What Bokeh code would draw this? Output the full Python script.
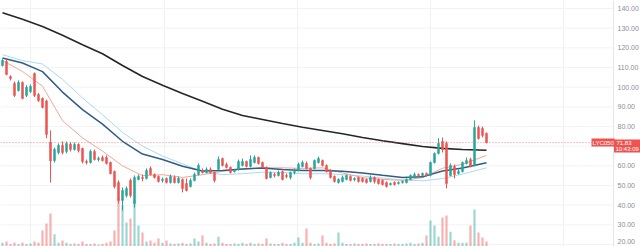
from bokeh.plotting import figure
from bokeh.models import Range1d, FixedTicker, Label, Span, Grid
from bokeh.core.properties import value
from bokeh.embed import file_html
from bokeh.resources import INLINE

# ---- data ----
opens = [111.0, 113.0, 105.4, 101.9, 98.3, 102.4, 95.8, 97.8, 106.9, 96.3,
         94.3, 93.0, 72.0, 62.7, 66.8, 70.4, 67.3, 71.0, 68.3, 70.9,
         68.8, 62.2, 61.7, 67.3, 63.2, 64.2, 64.2, 61.7, 57.1, 51.5,
         42.4, 44.9, 52.6, 40.9, 53.1, 54.1, 53.6, 58.7, 55.6, 54.6,
         52.6, 53.6, 51.5, 54.1, 51.5, 53.1, 51.0, 49.5, 52.6, 55.6,
         57.6, 56.6, 58.2, 56.6, 58.2, 63.7, 60.7, 59.2, 57.1, 58.2,
         60.2, 62.2, 59.7, 61.7, 64.2, 61.7, 59.2, 54.1, 55.6, 55.1,
         57.1, 55.1, 54.1, 56.6, 57.6, 59.7, 61.2, 58.7, 58.7, 61.7,
         62.7, 60.2, 57.6, 54.6, 51.5, 52.1, 53.1, 54.6, 53.1, 54.1,
         53.6, 53.1, 52.1, 54.1, 53.1, 52.6, 51.5, 50.5, 51.5, 51.0,
         51.5, 51.5, 53.1, 54.1, 55.6, 55.1, 56.1, 55.1, 61.7, 66.3,
         72.4, 71.4, 55.1, 59.7, 56.1, 57.1, 61.2, 63.2, 60.2, 79.5,
         79.0, 76.5]
closes = [113.6, 106.5, 104.4, 95.8, 102.4, 94.3, 100.0, 100.4, 95.8, 93.2,
          89.7, 76.0, 62.5, 68.3, 70.4, 66.8, 71.4, 68.3, 70.9, 67.8,
          62.2, 61.7, 67.3, 63.2, 63.7, 62.7, 61.2, 56.1, 49.5, 42.4,
          47.5, 48.5, 44.9, 54.1, 54.6, 53.6, 57.6, 55.6, 54.1, 52.1,
          53.1, 51.5, 54.6, 51.5, 53.6, 48.5, 47.5, 52.6, 55.6, 60.2,
          56.6, 58.2, 56.6, 52.6, 63.2, 60.2, 59.2, 56.6, 57.6, 62.2,
          62.2, 59.7, 63.2, 64.2, 61.2, 59.2, 53.6, 56.6, 55.1, 56.6,
          53.1, 54.6, 56.6, 57.1, 60.7, 61.7, 58.7, 54.1, 62.7, 63.7,
          60.2, 57.1, 54.1, 52.1, 53.1, 54.1, 55.1, 52.6, 53.6, 52.1,
          52.1, 51.5, 54.1, 52.1, 51.0, 50.5, 49.5, 51.0, 50.5, 51.5,
          52.1, 53.1, 55.1, 55.6, 55.1, 56.1, 55.1, 61.7, 66.3, 71.4,
          68.3, 51.0, 60.2, 55.6, 57.1, 61.7, 62.7, 59.7, 79.5, 73.9,
          75.4, 71.83]
highs = [114.6, 114.0, 106.0, 102.9, 103.4, 102.9, 101.0, 101.4, 107.5, 97.0,
         94.8, 93.7, 78.0, 69.3, 71.4, 72.4, 72.4, 72.0, 71.9, 71.4,
         69.3, 63.2, 68.3, 68.3, 64.7, 65.3, 65.3, 62.2, 57.6, 52.6,
         49.0, 49.5, 53.6, 55.1, 55.6, 55.6, 58.7, 59.7, 56.1, 55.1,
         54.1, 54.1, 55.6, 55.1, 54.6, 53.6, 53.6, 53.6, 56.6, 61.2,
         58.7, 59.2, 59.2, 57.1, 64.7, 64.2, 61.7, 59.7, 58.2, 63.2,
         63.7, 62.7, 65.3, 65.3, 64.7, 62.2, 59.7, 57.1, 56.6, 57.6,
         57.6, 56.1, 57.1, 58.7, 61.7, 62.7, 62.2, 59.2, 63.2, 64.7,
         63.2, 60.7, 58.2, 55.1, 53.6, 55.1, 55.6, 55.1, 54.1, 54.6,
         54.1, 53.6, 55.1, 54.6, 53.6, 53.1, 52.1, 51.5, 52.1, 52.1,
         52.6, 53.6, 55.6, 56.6, 56.1, 56.6, 56.6, 62.2, 66.8, 74.0,
         74.4, 72.4, 61.2, 60.7, 58.7, 62.2, 64.2, 64.2, 83.1, 80.5,
         80.0, 77.0]
lows = [110.5, 106.0, 103.4, 95.0, 97.8, 93.8, 95.0, 97.0, 95.0, 92.5,
        89.2, 74.0, 51.5, 61.7, 65.8, 65.8, 66.3, 67.3, 67.8, 66.8,
        61.2, 60.7, 61.2, 62.7, 62.2, 62.2, 60.7, 55.6, 48.5, 40.9,
        37.3, 43.9, 43.9, 38.8, 52.6, 52.1, 53.1, 55.1, 53.6, 51.5,
        51.5, 51.0, 51.0, 51.0, 51.0, 46.5, 47.0, 49.0, 52.1, 55.1,
        56.1, 56.1, 56.1, 51.5, 58.2, 59.7, 58.7, 56.1, 56.6, 57.6,
        59.7, 59.2, 59.2, 61.2, 60.7, 58.7, 53.1, 53.6, 54.1, 54.6,
        52.6, 53.6, 53.1, 55.6, 57.1, 59.2, 58.2, 53.1, 58.2, 61.2,
        59.7, 56.6, 53.6, 51.5, 51.0, 51.5, 52.6, 52.1, 52.1, 51.5,
        51.5, 51.0, 51.5, 51.0, 50.5, 50.0, 49.0, 50.0, 50.0, 50.5,
        51.0, 51.0, 52.6, 53.6, 54.6, 54.6, 54.6, 54.6, 61.2, 65.8,
        66.8, 48.5, 54.6, 53.6, 55.6, 56.6, 60.7, 59.2, 59.7, 73.4,
        74.4, 71.4]
volumes = [1.5, 2.0, 1.0, 1.5, 1.0, 1.5, 1.0, 1.2, 2.0, 1.5,
           6.5, 9.3, 13.4, 5.0, 1.5, 2.4, 1.5, 1.0, 1.2, 1.0,
           2.0, 1.0, 1.0, 1.2, 0.8, 1.0, 1.5, 2.0, 6.5, 19.5,
           16.7, 9.8, 11.4, 18.7, 8.5, 5.7, 2.0, 2.4, 1.5, 3.3,
           1.5, 2.4, 1.2, 1.0, 1.2, 1.5, 1.0, 1.2, 3.3, 2.0,
           4.5, 1.5, 1.0, 1.2, 4.0, 1.5, 1.0, 1.0, 1.2, 1.0,
           1.5, 1.0, 1.5, 1.0, 1.2, 1.0, 3.3, 1.2, 1.0, 1.0,
           1.5, 1.0, 1.0, 1.5, 3.7, 1.5, 7.3, 1.5, 1.0, 1.2,
           4.5, 1.5, 1.0, 1.2, 5.7, 1.5, 1.0, 1.0, 1.2, 1.0,
           1.0, 1.2, 1.0, 1.0, 1.2, 1.0, 1.0, 1.0, 1.2, 1.0,
           1.0, 1.2, 1.5, 1.0, 1.2, 1.5, 4.5, 10.6, 8.5, 4.0,
           11.8, 12.6, 6.0, 2.5, 1.5, 1.5, 1.5, 8.5, 15.0, 5.7,
           3.7, 2.0]

# moving averages read at every fifth bar
ma_idx = [0, 5, 10, 15, 20, 25, 30, 35, 40, 45, 50, 55, 60, 65, 70, 75, 80, 85,
          90, 95, 100, 105, 110, 115, 121]
ma_long = [137.9, 134.5, 130.8, 126.4, 121.6, 117.0, 111.0, 105.4, 101.0, 96.8,
           92.8, 88.8, 85.6, 83.6, 81.5, 79.6, 78.0, 76.3, 74.4, 72.8, 71.3,
           69.8, 68.9, 68.3, 67.9]
ma_mid = [114.8, 112.3, 107.9, 97.5, 88.6, 81.2, 72.5, 66.0, 63.2, 59.8,
          57.4, 57.6, 58.4, 58.9, 58.2, 57.6, 57.6, 57.2, 56.4, 55.2, 54.1,
          54.4, 57.4, 58.9, 61.6]
ma_mid2 = [116.5, 113.5, 111.8, 104.0, 94.5, 86.0, 77.0, 70.0, 65.0, 61.0,
           57.0, 55.5, 56.0, 56.8, 56.6, 56.0, 56.0, 55.6, 54.8, 53.8, 52.8,
           52.4, 53.5, 55.8, 59.0]
ma_short = [113.5, 108.0, 100.5, 83.0, 74.2, 67.5, 60.0, 55.0, 55.5, 54.1,
            55.5, 57.2, 58.3, 59.0, 59.0, 58.7, 59.0, 56.4, 54.0, 53.1, 52.6,
            54.0, 58.8, 60.8, 65.3]

last_price = 71.83
symbol = "LYC050"
countdown = "10:43:09"
price_ticks = [30, 40, 50, 60, 80, 90, 100, 110, 120, 130, 140]
bottom_tick = 20
grid_ticks = [20, 30, 40, 50, 60, 70, 80, 90, 100, 110, 120, 130, 140]

UP = "#26a69a"
DOWN = "#ef5350"
FONT = "Liberation Sans"

# ---- layout: 4 px per bar, full-width frame with a price scale drawn at right ----
W, H = 640, 246
PX = 4.0                       # pixels per bar
X0 = -0.5
X1 = X0 + W / PX
SCALE_W = 27                   # width of the price scale strip, px
x_scale = X1 - SCALE_W / PX    # where the price scale begins (data units)
Y0, Y1 = 18.99, 144.07
py = (Y1 - Y0) / H             # price units per pixel

idx = list(range(len(opens)))
up = [c >= o for o, c in zip(opens, closes)]
colors = [UP if u else DOWN for u in up]
body_top = [max(o, c) for o, c in zip(opens, closes)]
body_bot = [min(o, c) for o, c in zip(opens, closes)]

p = figure(width=W, height=H, x_range=Range1d(X0, X1), y_range=Range1d(Y0, Y1),
           output_backend="svg", toolbar_location=None,
           x_axis_location=None, y_axis_location=None, min_border=0)
p.outline_line_color = None
p.background_fill_color = "white"
p.border_fill_color = "white"
p.xgrid.visible = False
p.ygrid.visible = False

# grid
p.segment(x0=[X0] * len(grid_ticks), x1=[x_scale] * len(grid_ticks),
          y0=grid_ticks, y1=grid_ticks, line_color="#f2f3f7", line_width=1)
p.add_layout(Grid(dimension=0, ticker=FixedTicker(ticks=[7, 40.5, 73.75, 107, 140.25]),
                  grid_line_color="#eef0f4"))

# volume
p.extra_y_ranges = {"vol": Range1d(0, 100)}
p.vbar(x=idx, top=volumes, bottom=0, width=0.55, y_range_name="vol",
       fill_color=colors, line_color=None, fill_alpha=0.45)

# moving averages
p.line(ma_idx, ma_mid2, line_color="#a9daf3", line_width=1.0)
p.line(ma_idx, ma_short, line_color="#f2a898", line_width=1.0)
p.line(ma_idx, ma_mid, line_color="#2f5d86", line_width=1.5)
p.line(ma_idx, ma_long, line_color="#262626", line_width=1.6)

# candles
p.segment(x0=idx, y0=highs, x1=idx, y1=lows, line_color=colors, line_width=1)
p.vbar(x=idx, top=body_top, bottom=body_bot, width=0.5,
       fill_color=colors, line_color=colors, line_width=0.5)

# last price line
p.segment(x0=[X0], x1=[x_scale], y0=[last_price], y1=[last_price], line_color=DOWN,
          line_dash="1 2", line_width=1, line_alpha=0.7)

# price scale (right)
p.add_layout(Span(location=x_scale, dimension="height", line_color="#e3e5eb", line_width=1))
p.text(x=[x_scale + 4 / PX] * len(price_ticks), y=price_ticks,
       text=["%.2f" % t for t in price_ticks], text_font=value(FONT),
       text_font_size="7px", text_color="#8a8d96", text_align="left",
       text_baseline="middle")
p.text(x=[x_scale + 4 / PX], y=[bottom_tick], text=["%.2f" % bottom_tick],
       text_font=value(FONT), text_font_size="7px", text_color="#8a8d96",
       text_align="left", text_baseline="bottom", y_offset=-1)

# last-price marker on the scale
p.rect(x=[x_scale + SCALE_W / PX / 2], y=[last_price - 3.5 * py], width=SCALE_W, height=13,
       width_units="screen", height_units="screen", fill_color=DOWN, line_color=None)
p.text(x=[x_scale + 3 / PX], y=[last_price - 0.5 * py], text=["%.2f" % last_price],
       text_font=value(FONT), text_font_size="6px", text_color="white",
       text_align="left", text_baseline="middle")
p.text(x=[x_scale + 2 / PX], y=[last_price - 6.8 * py], text=[countdown],
       text_font=value(FONT), text_font_size="6px", text_color="white",
       text_align="left", text_baseline="middle")
p.add_layout(Label(x=x_scale - 22 / PX, y=last_price, text=symbol,
                   text_font_size="6px", text_color="white", text_font=FONT,
                   text_align="left", text_baseline="middle",
                   background_fill_color=DOWN, padding=1))

open("out.html", "w").write(file_html(p, INLINE))
